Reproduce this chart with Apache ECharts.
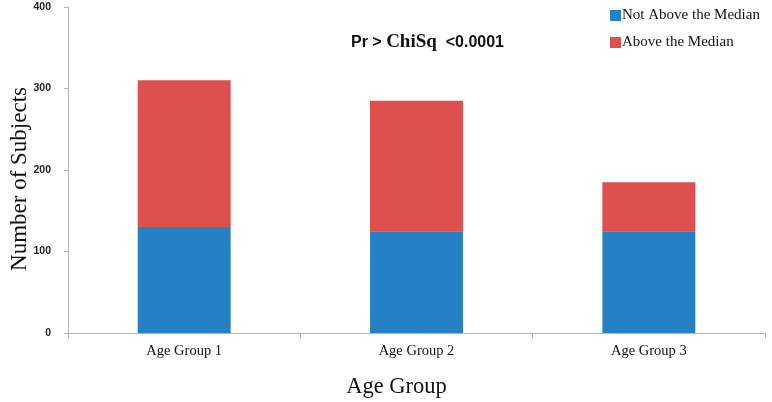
<!DOCTYPE html>
<html><head><meta charset="utf-8">
<script src="https://cdn.jsdelivr.net/npm/echarts@6/dist/echarts.min.js"></script>
<style>html,body{margin:0;padding:0;background:#fff}#c{width:772px;height:402px}</style>
</head><body><div id="c"></div>
<script>
const categories = ['Age Group 1', 'Age Group 2', 'Age Group 3'];
const notAbove = [130, 125, 125];
const above = [180, 160, 60];
const yTicks = [0, 100, 200, 300, 400];
const seriesNames = ['Not Above the Median', 'Above the Median'];
const annotationParts = ['Pr > ', 'ChiSq', '  <0.0001'];

const serif = '"Liberation Serif", "DejaVu Serif", serif';
const sans = '"Liberation Sans", "DejaVu Sans", sans-serif';
const chart = echarts.init(document.getElementById('c'));
chart.setOption({
  animation: false,
  grid: { left: 68, right: 7, top: 7, bottom: 69, outerBoundsMode: 'none', containLabel: false },
  legend: {
    orient: 'vertical', left: 605, top: 3, itemWidth: 11, itemHeight: 11, itemGap: 12,
    icon: 'rect', data: seriesNames,
    textStyle: { fontFamily: serif, fontSize: 15, color: '#111', padding: [0, 0, 0, -4] }
  },
  xAxis: {
    type: 'category', data: categories,
    name: 'Age Group', nameLocation: 'middle', nameGap: 43, nameMoveOverlap: false,
    nameTextStyle: { fontFamily: serif, fontSize: 22.5, color: '#111', padding: [0, 40, 0, 0] },
    axisLine: { lineStyle: { color: '#b5b5b5' } },
    axisTick: { show: true, alignWithLabel: false, length: 5, lineStyle: { color: '#b5b5b5' } },
    axisLabel: { fontFamily: serif, fontSize: 14.5, color: '#111', margin: 11 }
  },
  yAxis: {
    type: 'value', min: yTicks[0], max: yTicks[yTicks.length - 1], interval: 100,
    name: 'Number of Subjects', nameLocation: 'middle', nameGap: 37, nameRotate: 90, nameMoveOverlap: false,
    nameTextStyle: { fontFamily: serif, fontSize: 23, color: '#111', padding: [0, 18, 0, 0] },
    axisLine: { show: true, lineStyle: { color: '#b5b5b5' } },
    axisTick: { show: true, inside: false, length: 4, lineStyle: { color: '#b5b5b5' } },
    splitLine: { show: false },
    axisLabel: { fontFamily: sans, fontWeight: 'bold', fontSize: 10.5, color: '#222', margin: 17 }
  },
  series: [
    { name: seriesNames[0], type: 'bar', stack: 's', data: notAbove, barWidth: '40%',
      itemStyle: { color: '#2581C4' } },
    { name: seriesNames[1], type: 'bar', stack: 's', data: above, barWidth: '40%',
      itemStyle: { color: '#DD504D' } }
  ],
  graphic: [{
    type: 'text', left: 351, top: 33,
    style: {
      text: '{a|' + annotationParts[0] + '}{b|' + annotationParts[1] + '}{a|' + annotationParts[2] + '}',
      rich: {
        a: { font: 'bold 16px ' + sans, fill: '#111', color: '#111' },
        b: { font: 'bold 19px ' + serif, fill: '#111', color: '#111' }
      }
    }
  }]
});
</script></body></html>
